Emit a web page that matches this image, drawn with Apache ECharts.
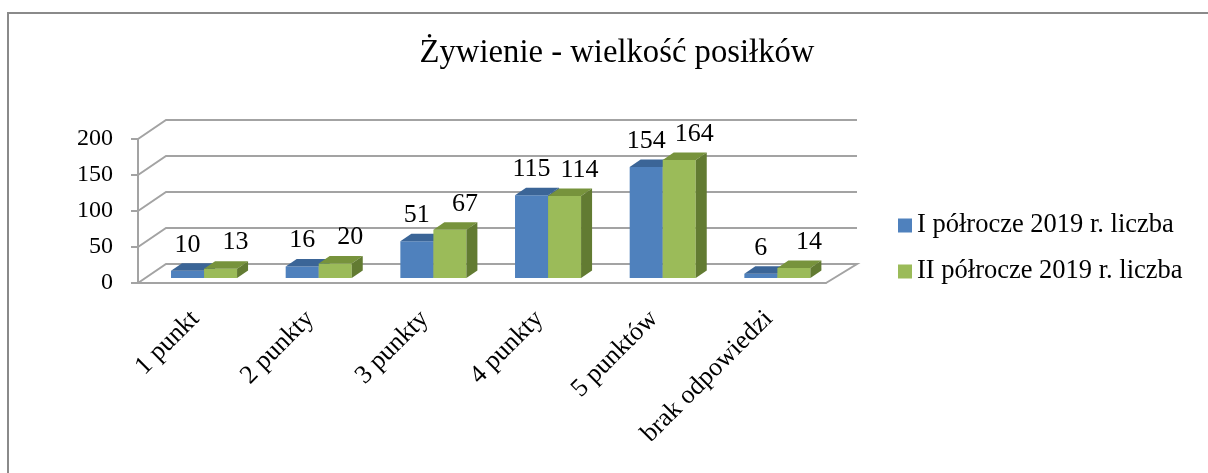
<!DOCTYPE html>
<html>
<head>
<meta charset="utf-8">
<script src="https://cdn.jsdelivr.net/npm/echarts@6/dist/echarts.min.js"></script>
<style>
  html, body { margin: 0; padding: 0; background: #fff; }
  #main { width: 1208px; height: 473px; }
</style>
</head>
<body>
<div id="main"></div>
<script>
var categories = ['1 punkt', '2 punkty', '3 punkty', '4 punkty', '5 punktów', 'brak odpowiedzi'];
var seriesNames = ['I półrocze 2019 r. liczba', 'II półrocze 2019 r. liczba'];
var firstHalf = [10, 16, 51, 115, 154, 6];
var secondHalf = [13, 20, 67, 114, 164, 14];
var yTicks = [0, 50, 100, 150, 200];

var FONT = '"Liberation Serif", "Times New Roman", serif';
// 3d look: back wall offset and bar depth
var DX = 28, DY = -19;
var BY = -5;
var BDX = 11, BDY = -7.5;
var lineColor = '#a3a3a3';

var chart = echarts.init(document.getElementById('main'));

function makeBar(idx, front, topc, side, labelShift) {
  return function (params, api) {
    var i = api.value(0), v = api.value(1);
    var base = api.coord([i, 0]);
    var top = api.coord([i, v]);
    var band = api.size([1, 0])[0];
    var x0 = base[0] - band / 2 + band * (0.288 + idx * 0.288);
    var x1 = x0 + band * 0.288;
    var yb = base[1] + BY, yt = top[1] + BY;
    return {
      type: 'group',
      children: [
        { type: 'rect', shape: { x: x0, y: yt, width: x1 - x0, height: yb - yt }, style: { fill: front } },
        { type: 'polygon', shape: { points: [[x0, yt], [x1, yt], [x1 + BDX, yt + BDY], [x0 + BDX, yt + BDY]] }, style: { fill: topc } },
        { type: 'polygon', shape: { points: [[x1, yt], [x1 + BDX, yt + BDY], [x1 + BDX, yb + BDY], [x1, yb]] }, style: { fill: side } },
        { type: 'text', style: { text: String(v), x: (x0 + x1) / 2 + labelShift, y: yt - 26, align: 'center', verticalAlign: 'middle', fill: '#000', font: '26px ' + FONT } }
      ]
    };
  };
}

var option = {
  animation: false,
  graphic: [
    { type: 'rect', shape: { x: 8, y: 13, width: 1300, height: 600 }, style: { fill: 'none', stroke: '#8a8a8a', lineWidth: 2 } },
    { type: 'text', style: { text: 'Żywienie - wielkość posiłków', x: 617, y: 53, align: 'center', verticalAlign: 'middle', fill: '#000', font: '32.7px ' + FONT } }
  ],
  legend: {
    orient: 'vertical',
    left: 898,
    top: 212,
    padding: 0,
    itemWidth: 14,
    itemHeight: 14,
    itemGap: 19,
    icon: 'rect',
    textStyle: { fontFamily: FONT, fontSize: 26.5, color: '#000', lineHeight: 26 },
    data: seriesNames
  },
  grid: { left: 138, top: 139, width: 688, height: 144 },
  xAxis: {
    type: 'category',
    data: categories,
    axisLine: { lineStyle: { color: lineColor, width: 2 } },
    axisTick: { length: 7, lineStyle: { color: lineColor, width: 2 } },
    axisLabel: { interval: 0, rotate: 45, margin: 32, fontFamily: FONT, fontSize: 26, color: '#000' }
  },
  yAxis: {
    type: 'value',
    min: 0,
    max: 200,
    interval: 50,
    axisLine: { show: true, lineStyle: { color: lineColor, width: 2 } },
    axisTick: { show: true, length: 7, lineStyle: { color: lineColor, width: 2 } },
    splitLine: { show: false },
    axisLabel: { margin: 25, fontFamily: FONT, fontSize: 24, color: '#000' }
  },
  series: [
    {
      type: 'custom',
      name: 'wall',
      silent: true,
      clip: false,
      z: 1,
      data: yTicks.map(function (t) { return [0, t]; }),
      renderItem: function (params, api) {
        var t = api.value(1);
        var band = api.size([1, 0])[0];
        var p0 = api.coord([0, t]);
        var pl = api.coord([categories.length - 1, t]);
        var x0 = p0[0] - band / 2, x1 = pl[0] + band / 2, y = p0[1];
        var pts = [[x0, y], [x0 + DX, y + DY], [x1 + DX + 3, y + DY]];
        if (t === 0) pts.push([x1, y]);
        return { type: 'polyline', shape: { points: pts }, style: { stroke: lineColor, lineWidth: 2, fill: null } };
      }
    },
    {
      type: 'custom',
      name: seriesNames[0],
      clip: false,
      z: 3,
      itemStyle: { color: '#4f81bd' },
      data: firstHalf.map(function (v, i) { return [i, v]; }),
      renderItem: makeBar(0, '#4f81bd', '#3b6597', '#385d8a', 0)
    },
    {
      type: 'custom',
      name: seriesNames[1],
      clip: false,
      z: 4,
      itemStyle: { color: '#9bbb59' },
      data: secondHalf.map(function (v, i) { return [i, v]; }),
      renderItem: makeBar(1, '#9bbb59', '#77933c', '#627b32', 15)
    }
  ]
};
chart.setOption(option);
</script>
</body>
</html>
